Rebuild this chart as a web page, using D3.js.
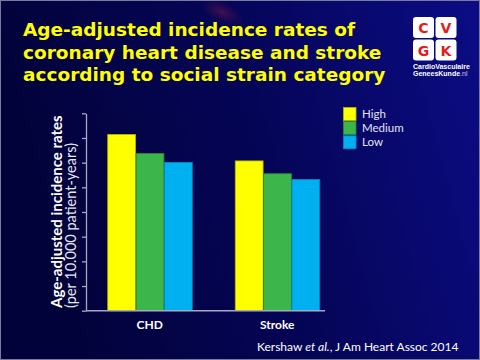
<!DOCTYPE html>
<html><head><meta charset="utf-8">
<script src="https://cdn.jsdelivr.net/npm/d3@7"></script>
<style>html,body{margin:0;padding:0;background:#030340;}svg{display:block;}</style>
</head><body>
<svg id="c" width="480" height="360"></svg>
<script>
const categories = ["CHD", "Stroke"];
const seriesNames = ["High", "Medium", "Low"];
const high = [71.4, 60.7];
const medium = [63.7, 55.5];
const low = [60.1, 53.2];
const yTicks = [0, 10, 20, 30, 40, 50, 60, 70, 80];
const titleLines = ["Age-adjusted incidence rates of", "coronary heart disease and stroke", "according to social strain category"];
const colors = ["#ffff00", "#3cb54a", "#00b0f0"];
const strokes = ["#b8b800", "#2a8a36", "#0088c0"];

const svg = d3.select("#c");
const defs = svg.append("defs");
const g = defs.append("linearGradient").attr("id","bg").attr("x1","0").attr("y1","0.2").attr("x2","1").attr("y2","0");
g.append("stop").attr("offset","0").attr("stop-color","#02023a");
g.append("stop").attr("offset","0.5").attr("stop-color","#050558");
g.append("stop").attr("offset","1").attr("stop-color","#0c0c86");
svg.append("rect").attr("width",480).attr("height",360).attr("fill","url(#bg)");
const rb = defs.append("radialGradient").attr("id","blob");
rb.append("stop").attr("offset","0").attr("stop-color","#6a1850").attr("stop-opacity",0.6);
rb.append("stop").attr("offset","1").attr("stop-color","#4a1048").attr("stop-opacity",0);
svg.append("ellipse").attr("cx",222).attr("cy",12).attr("rx",24).attr("ry",11)
  .attr("transform","rotate(25,222,12)").attr("fill","url(#blob)");
svg.append("rect").attr("x",0.5).attr("y",0.5).attr("width",479).attr("height",359)
  .attr("fill","none").attr("stroke","#7a7a9a").attr("stroke-width",1);

// Title
svg.append("g").selectAll("text").data(titleLines).join("text")
  .attr("x",23).attr("y",(d,i)=>36+i*22.5)
  .attr("font-family","DejaVu Sans").attr("font-weight","bold").attr("font-size",18.5)
  .attr("fill","#ffff00").text(d=>d);

// Logo
const logo = svg.append("g");
const letters = ["C","V","G","K"];
letters.forEach((L,i)=>{
  const cx = 413 + (i%2)*22.5, cy = 17 + Math.floor(i/2)*22.5;
  logo.append("rect").attr("x",cx).attr("y",cy).attr("width",21).attr("height",21).attr("rx",3).attr("fill","#ffffff");
  logo.append("text").attr("x",cx+10.5).attr("y",cy+16).attr("text-anchor","middle")
    .attr("font-family","DejaVu Sans").attr("font-weight","bold").attr("font-size",14).attr("fill","#e02020").text(L);
});
logo.append("text").attr("x",413).attr("y",68.5).attr("font-family","Liberation Sans Narrow, Liberation Sans").attr("font-size",7).attr("font-weight","bold").attr("fill","#fff").text("CardioVasculaire");
const t2 = logo.append("text").attr("x",413).attr("y",76).attr("font-family","Liberation Sans Narrow, Liberation Sans").attr("font-size",7).attr("font-weight","bold").attr("fill","#fff");
t2.append("tspan").text("GeneesKunde");
t2.append("tspan").attr("font-weight","normal").attr("fill","#c8c8e0").text(".nl");

// Scales
const y = d3.scaleLinear().domain([0,80]).range([310.7,113.3]);
const x0 = d3.scaleBand().domain(categories).range([86,341]).padding(0);
const x1 = d3.scaleBand().domain(seriesNames).range([21.25, 106.25]).padding(0);
const data = categories.map((c,i)=>({cat:c, vals:[high[i],medium[i],low[i]]}));

// Bars
const bars = svg.append("g");
data.forEach(d=>{
  bars.selectAll(null).data(d.vals.map((v,j)=>({v,j}))).join("rect")
    .attr("x",e=>x0(d.cat)+x1(seriesNames[e.j])+0.5)
    .attr("y",e=>y(e.v))
    .attr("width",x1.bandwidth()-0.5)
    .attr("height",e=>y(0)-y(e.v))
    .attr("fill",e=>colors[e.j]).attr("stroke",e=>strokes[e.j]).attr("stroke-width",0.8);
});

// Y axis
const ya = svg.append("g").attr("transform","translate(86,0)")
  .call(d3.axisLeft(y).tickValues(yTicks).tickSize(4).tickSizeOuter(0).tickFormat(""));
ya.selectAll("path,line").attr("stroke","#a8a8c0").attr("stroke-width",1.3);

// X axis baseline
svg.append("line").attr("x1",86).attr("x2",325).attr("y1",y(0)).attr("y2",y(0))
  .attr("stroke","#a8a8c0").attr("stroke-width",1.6);

// Category labels
svg.append("g").selectAll("text").data(categories).join("text")
  .attr("x",d=>x0(d)+x0.bandwidth()/2).attr("y",329).attr("text-anchor","middle")
  .attr("font-family","Lato").attr("font-weight","bold").attr("font-size",12).attr("fill","#ffffff").text(d=>d);

// Y axis title
const yt = svg.append("g").attr("transform","translate(0,308) rotate(-90)");
yt.append("text").attr("x",0).attr("y",62).attr("font-family","Lato").attr("font-weight","bold").attr("font-size",15).attr("fill","#fff").text("Age-adjusted incidence rates");
yt.append("text").attr("x",0).attr("y",75.5).attr("font-family","Lato").attr("font-size",14.5).attr("fill","#e8e8f4").text("(per 10.000 patient-years)");

// Legend
const leg = svg.append("g");
seriesNames.forEach((s,i)=>{
  const yy = [107.5,121.5,135.8][i];
  leg.append("rect").attr("x",343.5).attr("y",yy).attr("width",12.5).attr("height",13)
    .attr("fill",colors[i]).attr("stroke",strokes[i]).attr("stroke-width",0.8);
  leg.append("text").attr("x",362).attr("y",yy+10).attr("font-family","Lato").attr("font-size",11.5).attr("fill","#e4e4f2").text(s);
});

// Citation
const cit = svg.append("text").attr("x",257).attr("y",351).attr("font-family","Lato").attr("font-size",12).attr("fill","#ffffff");
cit.append("tspan").text("Kershaw ");
cit.append("tspan").attr("font-style","italic").text("et al.");
cit.append("tspan").text(", J Am Heart Assoc 2014");
</script>
</body></html>
